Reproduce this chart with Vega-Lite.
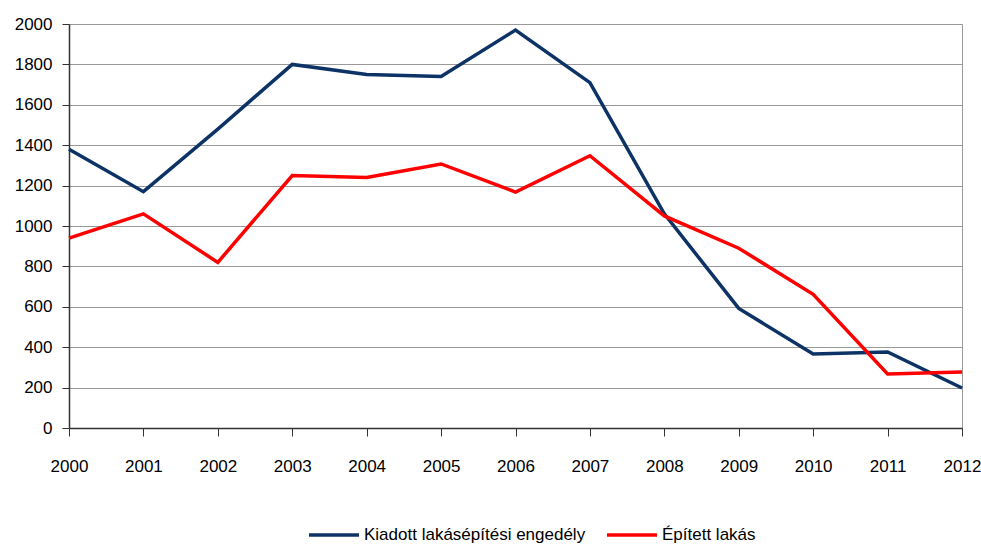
{
  "$schema": "https://vega.github.io/schema/vega-lite/v6.json",
  "width": 893,
  "height": 404,
  "autosize": {"type": "none"},
  "padding": {"left": 69, "top": 24, "right": 19, "bottom": 116},
  "background": "white",
  "config": {
    "font": "Liberation Sans",
    "view": {"stroke": "#999999", "strokeWidth": 1}
  },
  "data": {
    "values": [
      {"ev": "2000", "sorozat": "Kiadott lakásépítési engedély", "ertek": 1380},
      {"ev": "2001", "sorozat": "Kiadott lakásépítési engedély", "ertek": 1170},
      {"ev": "2002", "sorozat": "Kiadott lakásépítési engedély", "ertek": 1480},
      {"ev": "2003", "sorozat": "Kiadott lakásépítési engedély", "ertek": 1800},
      {"ev": "2004", "sorozat": "Kiadott lakásépítési engedély", "ertek": 1750},
      {"ev": "2005", "sorozat": "Kiadott lakásépítési engedély", "ertek": 1740},
      {"ev": "2006", "sorozat": "Kiadott lakásépítési engedély", "ertek": 1970},
      {"ev": "2007", "sorozat": "Kiadott lakásépítési engedély", "ertek": 1710},
      {"ev": "2008", "sorozat": "Kiadott lakásépítési engedély", "ertek": 1060},
      {"ev": "2009", "sorozat": "Kiadott lakásépítési engedély", "ertek": 592},
      {"ev": "2010", "sorozat": "Kiadott lakásépítési engedély", "ertek": 366},
      {"ev": "2011", "sorozat": "Kiadott lakásépítési engedély", "ertek": 376},
      {"ev": "2012", "sorozat": "Kiadott lakásépítési engedély", "ertek": 198},
      {"ev": "2000", "sorozat": "Épített lakás", "ertek": 940},
      {"ev": "2001", "sorozat": "Épített lakás", "ertek": 1060},
      {"ev": "2002", "sorozat": "Épített lakás", "ertek": 820},
      {"ev": "2003", "sorozat": "Épített lakás", "ertek": 1250},
      {"ev": "2004", "sorozat": "Épített lakás", "ertek": 1240},
      {"ev": "2005", "sorozat": "Épített lakás", "ertek": 1307},
      {"ev": "2006", "sorozat": "Épített lakás", "ertek": 1168},
      {"ev": "2007", "sorozat": "Épített lakás", "ertek": 1348},
      {"ev": "2008", "sorozat": "Épített lakás", "ertek": 1050},
      {"ev": "2009", "sorozat": "Épített lakás", "ertek": 890},
      {"ev": "2010", "sorozat": "Épített lakás", "ertek": 662},
      {"ev": "2011", "sorozat": "Épített lakás", "ertek": 267},
      {"ev": "2012", "sorozat": "Épített lakás", "ertek": 277}
    ]
  },
  "mark": {"type": "line", "strokeWidth": 3.5, "strokeJoin": "miter"},
  "encoding": {
    "x": {
      "field": "ev",
      "type": "ordinal",
      "scale": {"type": "point", "padding": 0},
      "axis": {
        "title": null,
        "labelAngle": 0,
        "labelFontSize": 17,
        "labelColor": "#000000",
        "labelPadding": 22,
        "tickSize": 8,
        "tickColor": "#333333",
        "domainColor": "#333333",
        "domainWidth": 1.5,
        "grid": false
      }
    },
    "y": {
      "field": "ertek",
      "type": "quantitative",
      "scale": {"domain": [0, 2000], "nice": false},
      "axis": {
        "title": null,
        "format": "d",
        "values": [0, 200, 400, 600, 800, 1000, 1200, 1400, 1600, 1800, 2000],
        "labelFontSize": 17,
        "labelColor": "#000000",
        "labelPadding": 10,
        "tickSize": 7,
        "tickColor": "#333333",
        "domainColor": "#333333",
        "domainWidth": 1.5,
        "gridColor": "#999999",
        "gridWidth": 1
      }
    },
    "color": {
      "field": "sorozat",
      "type": "nominal",
      "scale": {
        "domain": ["Kiadott lakásépítési engedély", "Épített lakás"],
        "range": ["#0D3366", "#FF0000"]
      },
      "legend": {
        "title": null,
        "orient": "none",
        "direction": "horizontal",
        "legendX": 238,
        "legendY": 484,
        "symbolType": "stroke",
        "symbolStrokeWidth": 3.5,
        "symbolSize": 2500,
        "labelFontSize": 17,
        "labelLimit": 400,
        "labelColor": "#000000",
        "labelOffset": 3,
        "columnPadding": 14
      }
    }
  }
}
